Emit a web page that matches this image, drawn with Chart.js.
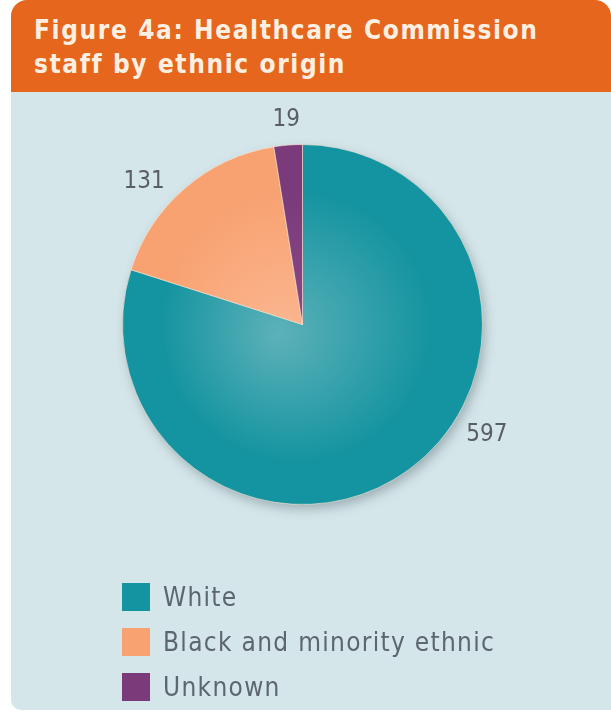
<!DOCTYPE html>
<html>
<head>
<meta charset="utf-8">
<script src="https://cdn.jsdelivr.net/npm/chart.js@4/dist/chart.umd.min.js"></script>
<style>
  html, body { margin: 0; padding: 0; background: #ffffff; }
  body { width: 611px; height: 720px; position: relative; overflow: hidden; }
  #header {
    position: absolute; left: 11px; top: 0; width: 600px; height: 92px;
    background: #e5661c; border-top-left-radius: 16px; border-top-right-radius: 16px;
  }
  #title {
    position: absolute; left: 23px; top: 13px; margin: 0;
    font-family: "DejaVu Sans Condensed", "DejaVu Sans", sans-serif; font-weight: bold;
    font-size: 26px; line-height: 34px; color: #fdf0e2; letter-spacing: 1.6px;
    white-space: nowrap;
  }
  #panel {
    position: absolute; left: 11px; top: 92px; width: 600px; height: 618px;
    background: #d5e6ea; border-bottom-left-radius: 10px;
  }
  #wrap { position: absolute; left: 0; top: 0; width: 611px; height: 720px; }
  #legend {
    position: absolute; left: 122px; top: 574px; margin: 0; padding: 0; list-style: none;
    font-family: "DejaVu Sans Condensed", "DejaVu Sans", sans-serif; font-size: 26px;
    letter-spacing: 1.3px; color: #5c6570;
  }
  #legend li { height: 45px; display: flex; align-items: center; white-space: nowrap; }
  #legend .box { width: 28px; height: 28px; margin-right: 13px; display: inline-block; }
</style>
</head>
<body>
<div id="header"><h1 id="title">Figure 4a: Healthcare Commission<br>staff by ethnic origin</h1></div>
<div id="panel"></div>
<div id="wrap"><canvas id="c" width="611" height="720"></canvas></div>
<ul id="legend"></ul>
<script>
// ---- data ----
const categories = ["White", "Black and minority ethnic", "Unknown"];
const staffCounts = [597, 131, 19];
const valueLabels = ["597", "131", "19"];

// ---- styles ----
const baseColors = ["#1494a0", "#f8a272", "#7b3a79"];
const innerColors = ["#5db1b9", "#fbb690", "#8a4a88"];

function sliceFill(ctx) {
  const i = ctx.dataIndex;
  const chart = ctx.chart;
  const a = chart.chartArea;
  if (!a) return baseColors[i];
  const cx = (a.left + a.right) / 2, cy = (a.top + a.bottom) / 2;
  const r = Math.min(a.right - a.left, a.bottom - a.top) / 2;
  const g = chart.ctx.createRadialGradient(cx - 25, cy + 10, 0, cx, cy, r);
  g.addColorStop(0, innerColors[i]);
  g.addColorStop(0.75, baseColors[i]);
  g.addColorStop(1, baseColors[i]);
  return g;
}

const shadowPlugin = {
  id: "pieShadow",
  beforeDatasetsDraw(chart) {
    const arc = chart.getDatasetMeta(0).data[0];
    if (!arc) return;
    const p = arc.getProps(["x", "y", "outerRadius"], true);
    const c = chart.ctx;
    c.save();
    c.shadowColor = "rgba(40,60,70,0.35)";
    c.shadowBlur = 12;
    c.shadowOffsetX = 3;
    c.shadowOffsetY = 5;
    c.beginPath();
    c.arc(p.x, p.y, p.outerRadius - 1, 0, Math.PI * 2);
    c.fillStyle = "#2a8f98";
    c.fill();
    c.restore();
  }
};

const valueLabelPlugin = {
  id: "valueLabels",
  afterDatasetsDraw(chart, args, opts) {
    const c = chart.ctx;
    const meta = chart.getDatasetMeta(0);
    c.save();
    c.font = opts.font;
    c.fillStyle = opts.color;
    c.textAlign = "center";
    c.textBaseline = "middle";
    meta.data.forEach((arc, i) => {
      const p = arc.getProps(["x", "y", "startAngle", "endAngle", "outerRadius"], true);
      let ang = (p.startAngle + p.endAngle) / 2;
      const ov = opts.angleOverrides[i];
      if (ov !== null && ov !== undefined) ang = ov * Math.PI / 180;
      const rr = p.outerRadius + opts.extra[i];
      c.fillText(valueLabels[i], p.x + Math.cos(ang) * rr, p.y + Math.sin(ang) * rr);
    });
    c.restore();
  }
};

const chart = new Chart(document.getElementById("c"), {
  type: "pie",
  data: {
    labels: categories,
    datasets: [{
      data: staffCounts,
      backgroundColor: sliceFill,
      borderColor: "rgba(255,230,210,0.6)",
      borderWidth: 1
    }]
  },
  options: {
    responsive: false,
    animation: false,
    layout: { padding: { left: 122, right: 128, top: 144, bottom: 215 } },
    plugins: {
      legend: { display: false },
      tooltip: { enabled: false },
      valueLabels: {
        font: "24px 'DejaVu Sans Condensed', 'DejaVu Sans', sans-serif",
        color: "#585e64",
        angleOverrides: [31, 222, null],
        extra: [35, 33, 25]
      }
    }
  },
  plugins: [shadowPlugin, valueLabelPlugin]
});

// HTML legend built from the chart's own legend items
const legendEl = document.getElementById("legend");
const items = Chart.overrides.pie.plugins.legend.labels.generateLabels(chart);
items.forEach((it, i) => {
  const li = document.createElement("li");
  const box = document.createElement("span");
  box.className = "box";
  box.style.background = baseColors[it.index !== undefined ? it.index : i];
  li.appendChild(box);
  li.appendChild(document.createTextNode(it.text));
  legendEl.appendChild(li);
});
</script>
</body>
</html>
